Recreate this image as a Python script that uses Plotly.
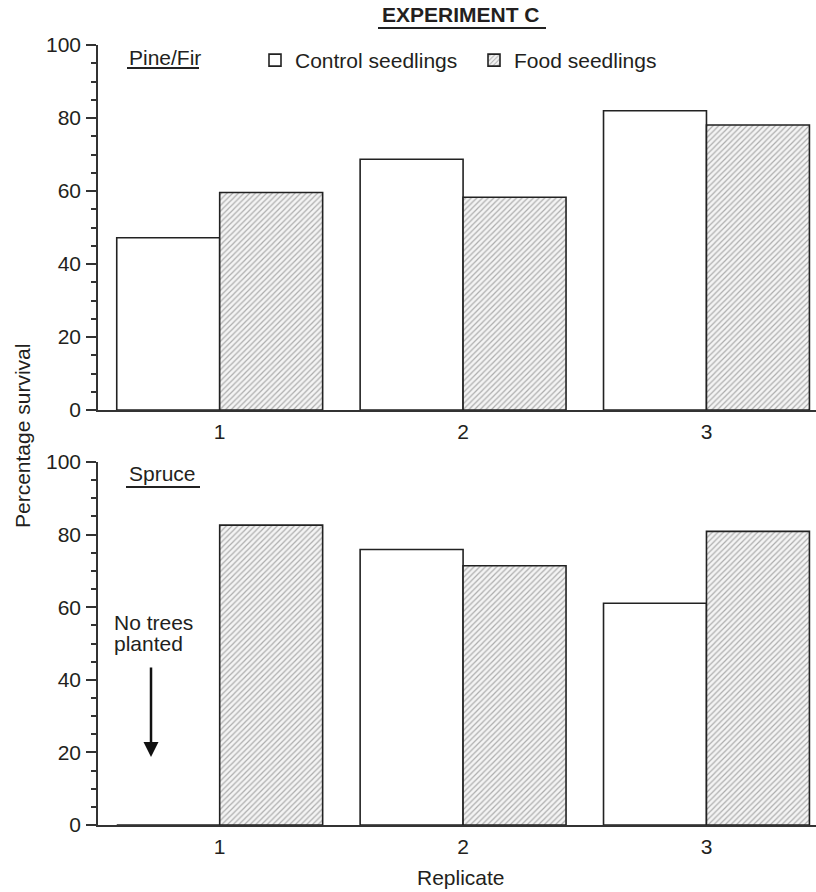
import plotly.graph_objects as go

replicates = [1, 2, 3]
tick_labels = ["1", "2", "3"]
pine_control = [47.2, 68.7, 82.0]
pine_food = [59.6, 58.3, 78.1]
spruce_control = [0.0, 75.9, 61.1]
spruce_food = [82.6, 71.4, 80.9]

FONT = "Liberation Sans, Arial, sans-serif"
TXT = "#231f20"
EDGE = "#222222"
W, H = 816, 892

def px_x(p):
    return p / W

def px_y(p):
    return 1 - p / H

ctrl_marker = dict(color="white", line=dict(color=EDGE, width=1.6))
food_marker = dict(color="white", line=dict(color=EDGE, width=1.6),
                   pattern=dict(shape="/", size=4, solidity=0.3,
                                fgcolor="#666666", bgcolor="#f4f4f4"))

fig = go.Figure()
fig.add_trace(go.Bar(x=replicates, y=pine_control, name="Control seedlings",
                     marker=ctrl_marker, xaxis="x", yaxis="y",
                     legendgroup="c", showlegend=True))
fig.add_trace(go.Bar(x=replicates, y=pine_food, name="Food seedlings",
                     marker=food_marker, xaxis="x", yaxis="y",
                     legendgroup="f", showlegend=True))
fig.add_trace(go.Bar(x=replicates, y=spruce_control, name="Control seedlings",
                     marker=ctrl_marker, xaxis="x2", yaxis="y2",
                     legendgroup="c", showlegend=False))
fig.add_trace(go.Bar(x=replicates, y=spruce_food, name="Food seedlings",
                     marker=food_marker, xaxis="x2", yaxis="y2",
                     legendgroup="f", showlegend=False))

xdom = [px_x(98), 1.0]
common_x = dict(range=[0.5, 3.45], domain=xdom, tickvals=replicates,
                ticktext=tick_labels, showline=True, linecolor="#333333",
                linewidth=1.5, ticks="", showgrid=False, zeroline=False,
                tickfont=dict(size=21, color=TXT, family=FONT),
                ticklabelstandoff=2, fixedrange=True, automargin=False)
common_y = dict(range=[0, 100], tickvals=[0, 20, 40, 60, 80, 100],
                showline=True, linecolor="#333333", linewidth=1.5,
                ticks="outside", ticklen=10, tickwidth=1.5, tickcolor="#333333",
                minor=dict(dtick=5, ticks="outside", ticklen=5, tickwidth=1.5,
                           tickcolor="#333333", showgrid=False),
                showgrid=False, zeroline=False,
                tickfont=dict(size=21, color=TXT, family=FONT),
                ticklabelstandoff=1, fixedrange=True, automargin=False)

fig.update_layout(
    width=W, height=H,
    margin=dict(l=0, r=0, t=0, b=0),
    paper_bgcolor="white", plot_bgcolor="white",
    barmode="group", bargap=0.154, bargroupgap=0,
    font=dict(family=FONT, size=21, color=TXT),
    xaxis=dict(**common_x, anchor="y"),
    yaxis=dict(**common_y, domain=[px_y(410), px_y(45)], anchor="x"),
    xaxis2=dict(**common_x, anchor="y2"),
    yaxis2=dict(**common_y, domain=[px_y(825), px_y(462)], anchor="x2"),
    legend=dict(orientation="h", x=px_x(255), y=px_y(40), xanchor="left",
                yanchor="top", bgcolor="rgba(0,0,0,0)",
                font=dict(size=21, color=TXT, family=FONT),
                entrywidth=174, entrywidthmode="pixels",
                itemclick=False, itemdoubleclick=False),
    showlegend=True,
)

annotations = [
    dict(text="<b>EXPERIMENT C</b>", xref="paper", yref="paper",
         x=px_x(461), y=px_y(15), xanchor="center", yanchor="middle",
         showarrow=False, font=dict(size=21, color=TXT, family=FONT)),
    dict(text="Pine/Fir", xref="paper", yref="paper",
         x=px_x(127), y=px_y(57), xanchor="left", yanchor="middle",
         showarrow=False, font=dict(size=21, color=TXT, family=FONT)),
    dict(text="Spruce", xref="paper", yref="paper",
         x=px_x(127), y=px_y(473), xanchor="left", yanchor="middle",
         showarrow=False, font=dict(size=21, color=TXT, family=FONT)),
    dict(text="Percentage survival", xref="paper", yref="paper",
         x=px_x(22), y=px_y(436), xanchor="center", yanchor="middle",
         textangle=-90, showarrow=False,
         font=dict(size=21, color=TXT, family=FONT)),
    dict(text="Replicate", xref="paper", yref="paper",
         x=px_x(461), y=px_y(877), xanchor="center", yanchor="middle",
         showarrow=False, font=dict(size=21, color=TXT, family=FONT)),
    dict(text="No trees", xref="x2", yref="y2", x=0.5575, y=55.9,
         xanchor="left", yanchor="middle", showarrow=False,
         font=dict(size=21, color=TXT, family=FONT)),
    dict(text="planted", xref="x2", yref="y2", x=0.5575, y=49.9,
         xanchor="left", yanchor="middle", showarrow=False,
         font=dict(size=21, color=TXT, family=FONT)),
    dict(text="", xref="x2", yref="y2", x=0.7178, y=18.7,
         axref="x2", ayref="y2", ax=0.7178, ay=43.8,
         showarrow=True, arrowhead=2, arrowsize=1.2, arrowwidth=2.5,
         arrowcolor="#111111", standoff=0, startstandoff=0),
]
fig.update_layout(annotations=annotations)

shapes = [
    dict(type="line", xref="paper", yref="paper", x0=px_x(378), x1=px_x(546),
         y0=px_y(28), y1=px_y(28), line=dict(color="#222222", width=2)),
    dict(type="line", xref="paper", yref="paper", x0=px_x(127), x1=px_x(199),
         y0=px_y(68), y1=px_y(68), line=dict(color="#222222", width=2)),
    dict(type="line", xref="paper", yref="paper", x0=px_x(126), x1=px_x(200),
         y0=px_y(487), y1=px_y(487), line=dict(color="#222222", width=2)),
]
fig.update_layout(shapes=shapes)

fig.write_html("out.html", config={"displayModeBar": False})
